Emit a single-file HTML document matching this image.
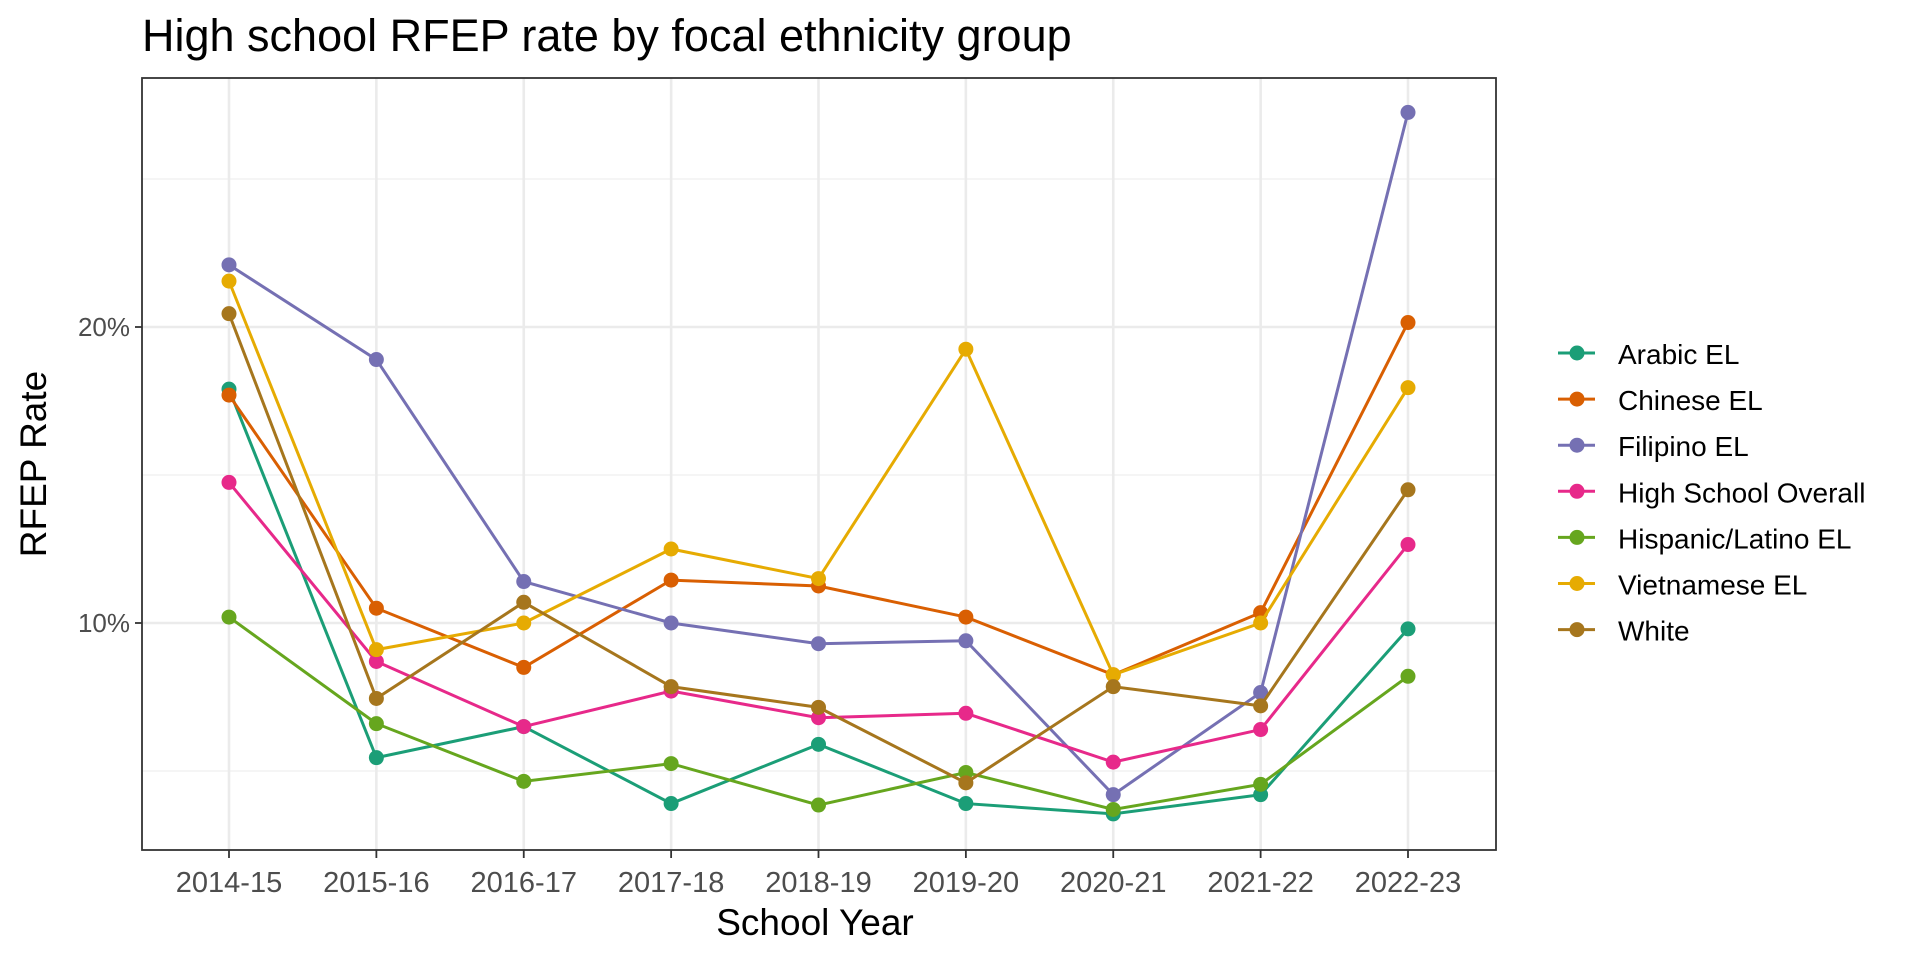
<!DOCTYPE html>
<html><head><meta charset="utf-8"><style>
body{margin:0;background:#fff;}
svg text{font-family:"Liberation Sans",Arial,sans-serif;}
</style></head><body>
<svg id="chart" width="1920" height="960" xmlns="http://www.w3.org/2000/svg">
<rect width="1920" height="960" fill="#fff"/>
<text x="142" y="51" font-size="45" fill="#000">High school RFEP rate by focal ethnicity group</text>
<g id="grid"></g>
<g id="series"></g>
<rect x="142" y="78" width="1354" height="772" fill="none" stroke="#333" stroke-width="1.8"/>
<g id="axes"></g>
<text x="815" y="935" font-size="37" text-anchor="middle" fill="#000">School Year</text>
<text transform="translate(46,464) rotate(-90)" font-size="37" text-anchor="middle" fill="#000">RFEP Rate</text>
<g id="legend"></g>
</svg>
<script>
const categories=["2014-15","2015-16","2016-17","2017-18","2018-19","2019-20","2020-21","2021-22","2022-23"];
const seriesNames=["Arabic EL","Chinese EL","Filipino EL","High School Overall","Hispanic/Latino EL","Vietnamese EL","White"];
const arabic=[17.9,5.45,6.5,3.9,5.9,3.9,3.55,4.2,9.8];
const chinese=[17.7,10.5,8.5,11.45,11.25,10.2,8.25,10.35,20.15];
const filipino=[22.1,18.9,11.4,10.0,9.3,9.4,4.2,7.65,27.25];
const hsOverall=[14.75,8.7,6.5,7.7,6.8,6.95,5.3,6.4,12.65];
const hispanic=[10.2,6.6,4.65,5.25,3.85,4.95,3.7,4.55,8.2];
const vietnamese=[21.55,9.1,10.0,12.5,11.5,19.25,8.25,10.0,17.95];
const white=[20.45,7.45,10.7,7.85,7.15,4.6,7.85,7.2,14.5];
const yTicks=[10,20];
const yTickLabels=["10%","20%"];
const yMinor=[5,15,25];
const allSeries=[arabic,chinese,filipino,hsOverall,hispanic,vietnamese,white];
const colors=["#1B9E77","#D95F02","#7570B3","#E7298A","#66A61E","#E6AB02","#A6761D"];
const NS="http://www.w3.org/2000/svg";
function x(i){return 229+i*(1408-229)/(categories.length-1);}
function y(v){return 623-(v-10)*29.6;}
function mk(t,a,p){const e=document.createElementNS(NS,t);for(const k in a)e.setAttribute(k,a[k]);p.appendChild(e);return e;}
const grid=document.getElementById('grid'),axes=document.getElementById('axes'),ser=document.getElementById('series'),leg=document.getElementById('legend');
yMinor.forEach(v=>{const l=mk('line',{x1:142,x2:1496,y1:y(v),y2:y(v),stroke:'#f2f2f2','stroke-width':1.4},grid);

});
yTicks.forEach((v,i)=>{const l=mk('line',{x1:142,x2:1496,y1:y(v),y2:y(v),stroke:'#ebebeb','stroke-width':2.6},grid);


const tk=mk('line',{x1:135,x2:142,y1:y(v),y2:y(v),stroke:'#333','stroke-width':1.8},axes);


const t=mk('text',{x:130,y:y(v)+9,'font-size':26,'text-anchor':'end',fill:'#4d4d4d'},axes);t.textContent=yTickLabels[i];

});
categories.forEach((c,i)=>{const l=mk('line',{x1:x(i),x2:x(i),y1:78,y2:850,stroke:'#ebebeb','stroke-width':2.6},grid);


const tk=mk('line',{x1:x(i),x2:x(i),y1:850,y2:858,stroke:'#333','stroke-width':1.8},axes);


const t=mk('text',{x:x(i),y:892,'font-size':29,'text-anchor':'middle',fill:'#4d4d4d'},axes);t.textContent=c;

});
allSeries.forEach((d,s)=>{const g=mk('g',{},ser);


const p=mk('polyline',{points:d.map((v,i)=>x(i)+','+y(v)).join(' '),fill:'none',stroke:colors[s],'stroke-width':3},g);


d.forEach((v,i)=>{const c=mk('circle',{cx:x(i),cy:y(v),r:7.5,fill:colors[s]},g);

});});
seriesNames.forEach((n,s)=>{const yy=353+s*46.1;const g=mk('g',{},leg);


mk('line',{x1:1558,x2:1595,y1:yy,y2:yy,stroke:colors[s],'stroke-width':3},g);
mk('circle',{cx:1577,cy:yy,r:7.5,fill:colors[s]},g);
const t=mk('text',{x:1618,y:yy+11,'font-size':28,fill:'#000'},g);t.textContent=n;});
</script>
</body></html>
